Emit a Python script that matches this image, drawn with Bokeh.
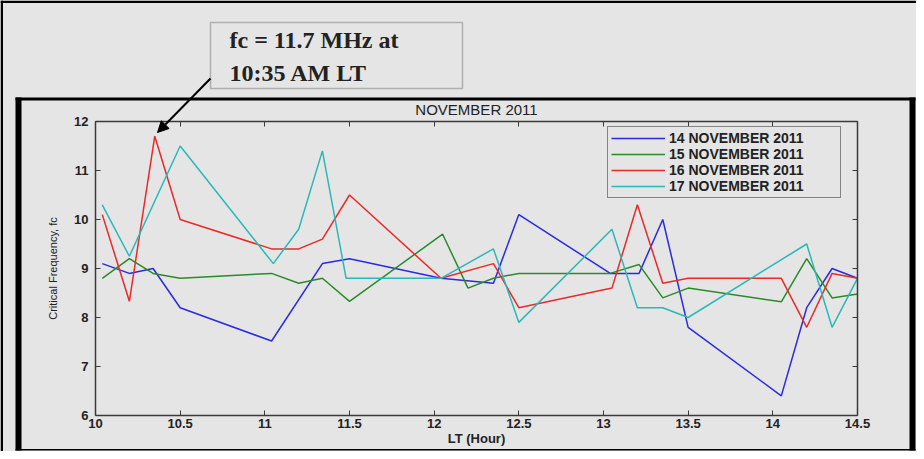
from bokeh.plotting import figure
from bokeh.models import (BoxAnnotation, Label, Arrow, NormalHead, LinearAxis, FixedTicker,
                          NumeralTickFormatter, Legend, LegendItem, Range1d, CustomJSTickFormatter)
from bokeh.embed import file_html
from bokeh.resources import INLINE

# ---- data ----
lt_14 = [10.04, 10.2, 10.34, 10.5, 11.04, 11.34, 11.5, 12.04, 12.35, 12.5, 13.04, 13.21, 13.35, 13.5, 14.05, 14.2, 14.35, 14.5]
fc_14 = [9.1, 8.9, 9.0, 8.2, 7.52, 9.1, 9.2, 8.8, 8.7, 10.1, 8.9, 8.9, 10.0, 7.8, 6.4, 8.2, 9.0, 8.8]

lt_15 = [10.04, 10.2, 10.34, 10.5, 11.04, 11.2, 11.34, 11.5, 12.05, 12.2, 12.35, 12.5, 13.04, 13.21, 13.35, 13.5, 14.05, 14.2, 14.35, 14.5]
fc_15 = [8.8, 9.2, 8.9, 8.8, 8.9, 8.7, 8.8, 8.33, 9.7, 8.6, 8.8, 8.9, 8.9, 9.08, 8.4, 8.6, 8.32, 9.2, 8.4, 8.48]

lt_16 = [10.04, 10.2, 10.35, 10.5, 11.04, 11.2, 11.34, 11.5, 12.04, 12.35, 12.5, 13.05, 13.2, 13.35, 13.5, 14.05, 14.2, 14.35, 14.5]
fc_16 = [10.1, 8.33, 11.7, 10.0, 9.4, 9.4, 9.6, 10.5, 8.8, 9.1, 8.2, 8.6, 10.3, 8.7, 8.8, 8.8, 7.8, 8.9, 8.8]

lt_17 = [10.04, 10.2, 10.5, 11.05, 11.2, 11.34, 11.48, 12.04, 12.35, 12.5, 13.05, 13.2, 13.35, 13.5, 14.2, 14.35, 14.5]
fc_17 = [10.3, 9.25, 11.5, 9.1, 9.8, 11.4, 8.8, 8.8, 9.4, 7.9, 9.8, 8.2, 8.2, 8.0, 9.5, 7.8, 8.8]

series_labels = ["14 NOVEMBER 2011", "15 NOVEMBER 2011", "16 NOVEMBER 2011", "17 NOVEMBER 2011"]
series_colors = ["#2a2ae0", "#2a8a2a", "#e82a2a", "#2ab8b8"]

x_ticks = [10, 10.5, 11, 11.5, 12, 12.5, 13, 13.5, 14, 14.5]
y_ticks = [6, 7, 8, 9, 10, 11, 12]
x_lim = (10, 14.5)
y_lim = (6, 12)

title_text = "NOVEMBER 2011"
x_label = "LT (Hour)"
y_label = "Critical Frequency, fc"
note_lines = ["fc = 11.7 MHz at", "10:35 AM LT"]

BG = "#e5e5e5"
AX = "#3a3a3a"
W, H = 916, 451
# where the axes box sits on the canvas (pixels)
BOX_L, BOX_T, BOX_W, BOX_H = 95, 121, 762, 294

# The frame fills the whole canvas; the ranges are chosen so x_lim / y_lim land on the axes box.
sx = (x_lim[1] - x_lim[0]) / BOX_W
sy = (y_lim[1] - y_lim[0]) / BOX_H
x_range = Range1d(x_lim[0] - BOX_L * sx, x_lim[0] + (W - BOX_L) * sx)
y_range = Range1d(y_lim[1] - (H - BOX_T) * sy, y_lim[1] + BOX_T * sy)

p = figure(width=W, height=H, min_border=0, x_range=x_range, y_range=y_range,
           x_axis_location=None, y_axis_location=None,
           output_backend="svg", toolbar_location=None)
p.background_fill_color = BG
p.border_fill_color = BG
p.grid.visible = False
p.outline_line_color = None

def make_axis(ticks, fixed, bounds, labels=True):
    ax = LinearAxis(ticker=FixedTicker(ticks=ticks), fixed_location=fixed, bounds=bounds)
    ax.axis_line_color = AX
    ax.axis_line_width = 1.5
    ax.major_tick_in = 5
    ax.major_tick_out = 0
    ax.major_tick_line_color = AX
    ax.minor_tick_line_color = None
    if labels:
        ax.major_label_text_font = "Liberation Sans"
        ax.major_label_text_font_style = "bold"
        ax.major_label_text_font_size = "13px"
        ax.major_label_text_color = "#222222"
    else:
        ax.formatter = CustomJSTickFormatter(code="return ''")
    return ax

xa = make_axis(x_ticks, y_lim[0], x_lim)
xa.formatter = NumeralTickFormatter(format="0.[0]")
xa.major_label_standoff = 3
xa.axis_label = x_label
xa.axis_label_text_font = "Liberation Sans"
xa.axis_label_text_font_style = "bold"
xa.axis_label_text_font_size = "13px"
xa.axis_label_text_color = "#222222"
xa.axis_label_standoff = 0
p.add_layout(xa, "below")

ya = make_axis(y_ticks, x_lim[0], y_lim)
ya.major_label_standoff = 7
ya.axis_label = y_label
ya.axis_label_text_font = "Liberation Sans"
ya.axis_label_text_font_style = "normal"
ya.axis_label_text_font_size = "11px"
ya.axis_label_text_color = "#222222"
ya.axis_label_standoff = 12
p.add_layout(ya, "left")

p.add_layout(make_axis(x_ticks, y_lim[1], x_lim, labels=False), "above")
p.add_layout(make_axis(y_ticks, x_lim[1], y_lim, labels=False), "right")

renderers = []
for xs, ys, c in zip([lt_14, lt_15, lt_16, lt_17], [fc_14, fc_15, fc_16, fc_17], series_colors):
    renderers.append(p.line(xs, ys, line_color=c, line_width=1.5))

legend = Legend(items=[LegendItem(label=l, renderers=[r]) for l, r in zip(series_labels, renderers)],
                location=(607, H - 198), margin=0, padding=3, spacing=0,
                glyph_width=54, glyph_height=14, label_height=14, label_standoff=4, label_width=168,
                border_line_color="#222222", border_line_width=1.5,
                background_fill_color=BG, background_fill_alpha=1.0,
                label_text_font="Liberation Sans", label_text_font_style="bold",
                label_text_font_size="14px", label_text_color="#222222")
p.add_layout(legend, "center")

# ---- page decorations in canvas pixels (y down from the top) ----
def bar(l, r, t, b):
    p.add_layout(BoxAnnotation(left=l, right=r, top=t, bottom=b,
                               left_units="canvas", right_units="canvas",
                               top_units="canvas", bottom_units="canvas",
                               fill_color="black", fill_alpha=1.0, line_color=None))

bar(0, 2.5, 0, H)          # outer left
bar(0, W, 0, 2.5)          # outer top
bar(15, 21, 97, 450)       # inner left (thick)
bar(15, 915, 97, 100)      # inner top
bar(909, 915, 97, 450)     # inner right (thick)
bar(15, 915, 448.5, 450)   # inner bottom

p.add_layout(Label(x=476, y=109, x_units="canvas", y_units="canvas", text=title_text,
                   text_align="center", text_baseline="middle",
                   text_font="Liberation Sans", text_font_size="15px", text_color="#222222"))

# callout box with arrow
p.add_layout(BoxAnnotation(left=210, right=462, top=22, bottom=88,
                           left_units="canvas", right_units="canvas",
                           top_units="canvas", bottom_units="canvas",
                           fill_color=BG, fill_alpha=1.0, line_color="#333333", line_width=1.5))
for t, fy in zip(note_lines, [39, 72]):
    p.add_layout(Label(x=229, y=fy, x_units="canvas", y_units="canvas", text=t,
                       text_align="left", text_baseline="middle",
                       text_font="Liberation Serif", text_font_style="bold",
                       text_font_size="24px", text_color="#222222"))
p.add_layout(Arrow(end=NormalHead(size=11, fill_color="black", line_color="black"),
                   x_start=210, y_start=78, x_end=157, y_end=132,
                   start_units="canvas", end_units="canvas",
                   line_color="black", line_width=2))

open("out.html", "w").write(file_html(p, INLINE))
